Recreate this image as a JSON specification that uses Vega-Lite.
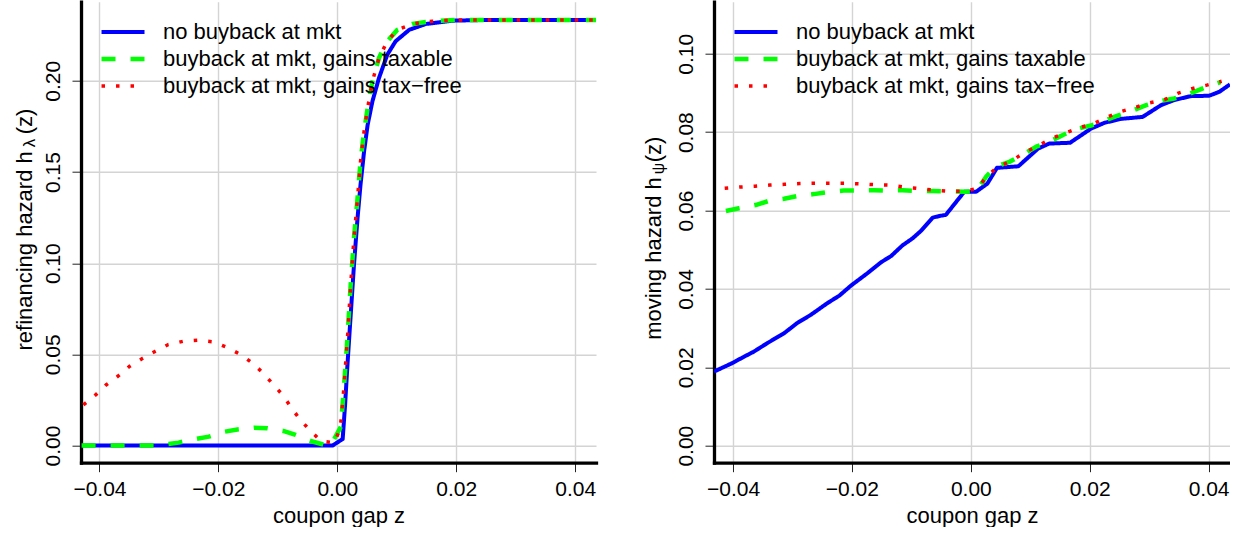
{
  "$schema": "https://vega.github.io/schema/vega-lite/v6.json",
  "background": "white",
  "padding": {"left": 13, "top": 1.7, "right": 0, "bottom": 0},
  "bounds": "flush",
  "spacing": 118,
  "datasets": {
    "refi": [
      {"s": "nb", "z": -0.0430, "h": 0},
      {"s": "nb", "z": -0.0008, "h": 0},
      {"s": "nb", "z": 0.0009, "h": 0.0036},
      {"s": "nb", "z": 0.0013, "h": 0.022},
      {"s": "nb", "z": 0.0017, "h": 0.044},
      {"s": "nb", "z": 0.00225, "h": 0.0716},
      {"s": "nb", "z": 0.0028, "h": 0.099},
      {"s": "nb", "z": 0.0034, "h": 0.1247},
      {"s": "nb", "z": 0.0039, "h": 0.143},
      {"s": "nb", "z": 0.0045, "h": 0.1613},
      {"s": "nb", "z": 0.0051, "h": 0.1759},
      {"s": "nb", "z": 0.0059, "h": 0.1887},
      {"s": "nb", "z": 0.0070, "h": 0.2015},
      {"s": "nb", "z": 0.0084, "h": 0.2143},
      {"s": "nb", "z": 0.0098, "h": 0.2217},
      {"s": "nb", "z": 0.0121, "h": 0.2280},
      {"s": "nb", "z": 0.0149, "h": 0.2312},
      {"s": "nb", "z": 0.0194, "h": 0.2330},
      {"s": "nb", "z": 0.0250, "h": 0.2334},
      {"s": "nb", "z": 0.0435, "h": 0.2334},

      {"s": "tx", "z": -0.0430, "h": 0},
      {"s": "tx", "z": -0.0300, "h": 0},
      {"s": "tx", "z": -0.0288, "h": 0.0007},
      {"s": "tx", "z": -0.0267, "h": 0.0016},
      {"s": "tx", "z": -0.0239, "h": 0.0036},
      {"s": "tx", "z": -0.0216, "h": 0.0049},
      {"s": "tx", "z": -0.0191, "h": 0.0075},
      {"s": "tx", "z": -0.0168, "h": 0.0088},
      {"s": "tx", "z": -0.0140, "h": 0.0098},
      {"s": "tx", "z": -0.0118, "h": 0.0095},
      {"s": "tx", "z": -0.0091, "h": 0.0080},
      {"s": "tx", "z": -0.0070, "h": 0.0058},
      {"s": "tx", "z": -0.0045, "h": 0.0025},
      {"s": "tx", "z": -0.0022, "h": 0.0004},
      {"s": "tx", "z": -0.0011, "h": 0},
      {"s": "tx", "z": -0.0003, "h": 0.0049},
      {"s": "tx", "z": 0.0006, "h": 0.0104},
      {"s": "tx", "z": 0.0011, "h": 0.0314},
      {"s": "tx", "z": 0.0017, "h": 0.0588},
      {"s": "tx", "z": 0.00225, "h": 0.0881},
      {"s": "tx", "z": 0.0028, "h": 0.1137},
      {"s": "tx", "z": 0.0034, "h": 0.1357},
      {"s": "tx", "z": 0.0039, "h": 0.1558},
      {"s": "tx", "z": 0.0045, "h": 0.1723},
      {"s": "tx", "z": 0.0051, "h": 0.1851},
      {"s": "tx", "z": 0.0059, "h": 0.1997},
      {"s": "tx", "z": 0.0070, "h": 0.2125},
      {"s": "tx", "z": 0.0084, "h": 0.2217},
      {"s": "tx", "z": 0.0101, "h": 0.2280},
      {"s": "tx", "z": 0.0126, "h": 0.2312},
      {"s": "tx", "z": 0.0160, "h": 0.2327},
      {"s": "tx", "z": 0.0199, "h": 0.2334},
      {"s": "tx", "z": 0.0435, "h": 0.2334},

      {"s": "tf", "z": -0.0427, "h": 0.0223},
      {"s": "tf", "z": -0.0407, "h": 0.0276},
      {"s": "tf", "z": -0.0389, "h": 0.0332},
      {"s": "tf", "z": -0.0369, "h": 0.0380},
      {"s": "tf", "z": -0.0350, "h": 0.0433},
      {"s": "tf", "z": -0.0328, "h": 0.0477},
      {"s": "tf", "z": -0.0306, "h": 0.0517},
      {"s": "tf", "z": -0.0284, "h": 0.0554},
      {"s": "tf", "z": -0.0259, "h": 0.0572},
      {"s": "tf", "z": -0.0235, "h": 0.0577},
      {"s": "tf", "z": -0.0209, "h": 0.0569},
      {"s": "tf", "z": -0.0186, "h": 0.0539},
      {"s": "tf", "z": -0.0163, "h": 0.0500},
      {"s": "tf", "z": -0.0143, "h": 0.0453},
      {"s": "tf", "z": -0.0125, "h": 0.0398},
      {"s": "tf", "z": -0.0108, "h": 0.0336},
      {"s": "tf", "z": -0.0091, "h": 0.0274},
      {"s": "tf", "z": -0.0077, "h": 0.0206},
      {"s": "tf", "z": -0.0062, "h": 0.0140},
      {"s": "tf", "z": -0.0045, "h": 0.0080},
      {"s": "tf", "z": -0.0027, "h": 0.0024},
      {"s": "tf", "z": -0.0005, "h": 0.0016},
      {"s": "tf", "z": 0.0005, "h": 0.0095},
      {"s": "tf", "z": 0.0011, "h": 0.0314},
      {"s": "tf", "z": 0.0017, "h": 0.0588},
      {"s": "tf", "z": 0.00225, "h": 0.0881},
      {"s": "tf", "z": 0.0028, "h": 0.1137},
      {"s": "tf", "z": 0.0034, "h": 0.1357},
      {"s": "tf", "z": 0.0039, "h": 0.1558},
      {"s": "tf", "z": 0.0045, "h": 0.1723},
      {"s": "tf", "z": 0.0051, "h": 0.1851},
      {"s": "tf", "z": 0.0059, "h": 0.1997},
      {"s": "tf", "z": 0.0070, "h": 0.2125},
      {"s": "tf", "z": 0.0084, "h": 0.2217},
      {"s": "tf", "z": 0.0101, "h": 0.2280},
      {"s": "tf", "z": 0.0126, "h": 0.2312},
      {"s": "tf", "z": 0.0160, "h": 0.2327},
      {"s": "tf", "z": 0.0199, "h": 0.2334},
      {"s": "tf", "z": 0.0435, "h": 0.2334}
    ],
    "move": [
      {"s": "nb", "z": -0.0432, "h": 0.0189},
      {"s": "nb", "z": -0.0401, "h": 0.0211},
      {"s": "nb", "z": -0.0384, "h": 0.0225},
      {"s": "nb", "z": -0.0365, "h": 0.0240},
      {"s": "nb", "z": -0.0342, "h": 0.0262},
      {"s": "nb", "z": -0.0314, "h": 0.0287},
      {"s": "nb", "z": -0.0292, "h": 0.0313},
      {"s": "nb", "z": -0.0269, "h": 0.0334},
      {"s": "nb", "z": -0.0241, "h": 0.0364},
      {"s": "nb", "z": -0.0221, "h": 0.0383},
      {"s": "nb", "z": -0.0202, "h": 0.0408},
      {"s": "nb", "z": -0.0174, "h": 0.0440},
      {"s": "nb", "z": -0.0151, "h": 0.0468},
      {"s": "nb", "z": -0.0134, "h": 0.0484},
      {"s": "nb", "z": -0.0115, "h": 0.0511},
      {"s": "nb", "z": -0.0098, "h": 0.0529},
      {"s": "nb", "z": -0.0084, "h": 0.0548},
      {"s": "nb", "z": -0.0064, "h": 0.0582},
      {"s": "nb", "z": -0.0053, "h": 0.0586},
      {"s": "nb", "z": -0.0042, "h": 0.0589},
      {"s": "nb", "z": -0.0011, "h": 0.0648},
      {"s": "nb", "z": 0.0009, "h": 0.0648},
      {"s": "nb", "z": 0.0028, "h": 0.0669},
      {"s": "nb", "z": 0.0044, "h": 0.0709},
      {"s": "nb", "z": 0.0080, "h": 0.0713},
      {"s": "nb", "z": 0.0113, "h": 0.0758},
      {"s": "nb", "z": 0.0132, "h": 0.0771},
      {"s": "nb", "z": 0.0167, "h": 0.0773},
      {"s": "nb", "z": 0.0202, "h": 0.0809},
      {"s": "nb", "z": 0.0225, "h": 0.0824},
      {"s": "nb", "z": 0.0253, "h": 0.0834},
      {"s": "nb", "z": 0.0289, "h": 0.0839},
      {"s": "nb", "z": 0.0320, "h": 0.0869},
      {"s": "nb", "z": 0.0342, "h": 0.0882},
      {"s": "nb", "z": 0.0370, "h": 0.0892},
      {"s": "nb", "z": 0.0401, "h": 0.0893},
      {"s": "nb", "z": 0.0418, "h": 0.0903},
      {"s": "nb", "z": 0.0436, "h": 0.0922},

      {"s": "tx", "z": -0.0412, "h": 0.0599},
      {"s": "tx", "z": -0.0390, "h": 0.0606},
      {"s": "tx", "z": -0.0362, "h": 0.0614},
      {"s": "tx", "z": -0.0339, "h": 0.0625},
      {"s": "tx", "z": -0.0314, "h": 0.0630},
      {"s": "tx", "z": -0.0292, "h": 0.0637},
      {"s": "tx", "z": -0.0264, "h": 0.0642},
      {"s": "tx", "z": -0.0242, "h": 0.0647},
      {"s": "tx", "z": -0.0214, "h": 0.0651},
      {"s": "tx", "z": -0.0193, "h": 0.0651},
      {"s": "tx", "z": -0.0163, "h": 0.0652},
      {"s": "tx", "z": -0.0143, "h": 0.0651},
      {"s": "tx", "z": -0.0115, "h": 0.0652},
      {"s": "tx", "z": -0.0092, "h": 0.0650},
      {"s": "tx", "z": -0.0064, "h": 0.0650},
      {"s": "tx", "z": -0.0034, "h": 0.0649},
      {"s": "tx", "z": -0.0011, "h": 0.0648},
      {"s": "tx", "z": 0.0009, "h": 0.0649},
      {"s": "tx", "z": 0.0026, "h": 0.0687},
      {"s": "tx", "z": 0.0042, "h": 0.0712},
      {"s": "tx", "z": 0.0066, "h": 0.0725},
      {"s": "tx", "z": 0.0084, "h": 0.0740},
      {"s": "tx", "z": 0.0110, "h": 0.0763},
      {"s": "tx", "z": 0.0130, "h": 0.0774},
      {"s": "tx", "z": 0.0155, "h": 0.0793},
      {"s": "tx", "z": 0.0177, "h": 0.0808},
      {"s": "tx", "z": 0.0202, "h": 0.0817},
      {"s": "tx", "z": 0.0222, "h": 0.0828},
      {"s": "tx", "z": 0.0247, "h": 0.0842},
      {"s": "tx", "z": 0.0270, "h": 0.0854},
      {"s": "tx", "z": 0.0295, "h": 0.0869},
      {"s": "tx", "z": 0.0317, "h": 0.0879},
      {"s": "tx", "z": 0.0342, "h": 0.0886},
      {"s": "tx", "z": 0.0365, "h": 0.0896},
      {"s": "tx", "z": 0.0392, "h": 0.0913},
      {"s": "tx", "z": 0.0420, "h": 0.0928},

      {"s": "tf", "z": -0.0414, "h": 0.0657},
      {"s": "tf", "z": -0.0389, "h": 0.0660},
      {"s": "tf", "z": -0.0363, "h": 0.0662},
      {"s": "tf", "z": -0.0338, "h": 0.0665},
      {"s": "tf", "z": -0.0313, "h": 0.0667},
      {"s": "tf", "z": -0.0288, "h": 0.0669},
      {"s": "tf", "z": -0.0262, "h": 0.0670},
      {"s": "tf", "z": -0.0237, "h": 0.0670},
      {"s": "tf", "z": -0.0212, "h": 0.0670},
      {"s": "tf", "z": -0.0187, "h": 0.0668},
      {"s": "tf", "z": -0.0162, "h": 0.0666},
      {"s": "tf", "z": -0.0137, "h": 0.0665},
      {"s": "tf", "z": -0.0111, "h": 0.0660},
      {"s": "tf", "z": -0.0087, "h": 0.0656},
      {"s": "tf", "z": -0.0061, "h": 0.0652},
      {"s": "tf", "z": -0.0036, "h": 0.0649},
      {"s": "tf", "z": -0.0011, "h": 0.0649},
      {"s": "tf", "z": 0.0012, "h": 0.0657},
      {"s": "tf", "z": 0.0027, "h": 0.0688},
      {"s": "tf", "z": 0.0046, "h": 0.0712},
      {"s": "tf", "z": 0.0069, "h": 0.0727},
      {"s": "tf", "z": 0.0090, "h": 0.0748},
      {"s": "tf", "z": 0.0113, "h": 0.0765},
      {"s": "tf", "z": 0.0135, "h": 0.0784},
      {"s": "tf", "z": 0.0159, "h": 0.0798},
      {"s": "tf", "z": 0.0182, "h": 0.0811},
      {"s": "tf", "z": 0.0207, "h": 0.0822},
      {"s": "tf", "z": 0.0229, "h": 0.0838},
      {"s": "tf", "z": 0.0253, "h": 0.0853},
      {"s": "tf", "z": 0.0276, "h": 0.0863},
      {"s": "tf", "z": 0.0301, "h": 0.0875},
      {"s": "tf", "z": 0.0326, "h": 0.0883},
      {"s": "tf", "z": 0.0348, "h": 0.0899},
      {"s": "tf", "z": 0.0372, "h": 0.0911},
      {"s": "tf", "z": 0.0397, "h": 0.0920},
      {"s": "tf", "z": 0.0422, "h": 0.0930}
    ]
  },
  "hconcat": [
    {
      "width": 515,
      "height": 461,
      "data": {"name": "refi"},
      "encoding": {
        "x": {
          "field": "z", "type": "quantitative",
          "scale": {"domain": [-0.0431, 0.0435], "nice": false, "zero": false},
          "axis": {"values": [-0.04, -0.02, 0, 0.02, 0.04], "format": ".2f", "title": "coupon gap z", "titleY": 59.7, "titleBaseline": "alphabetic", "labelBaseline": "alphabetic", "labelPadding": 23.4}
        },
        "color": {"field": "s", "type": "nominal", "title": null,
          "scale": {"domain": ["nb", "tx", "tf"], "range": ["#0000ff", "#00ff00", "#ff0000"]},
          "legend": {"labelExpr": "datum.label === 'nb' ? 'no buyback at mkt' : datum.label === 'tx' ? 'buyback at mkt, gains taxable' : 'buyback at mkt, gains tax\u2212free'"}},
        "strokeDash": {"field": "s", "type": "nominal", "title": null,
          "scale": {"domain": ["nb", "tx", "tf"], "range": [[1, 0], [14, 15], [3.5, 11]]},
          "legend": {"labelExpr": "datum.label === 'nb' ? 'no buyback at mkt' : datum.label === 'tx' ? 'buyback at mkt, gains taxable' : 'buyback at mkt, gains tax\u2212free'"}},
        "strokeWidth": {"field": "s", "type": "nominal", "title": null,
          "scale": {"type": "ordinal", "domain": ["nb", "tx", "tf"], "range": [4, 4.5, 3.5]},
          "legend": {"labelExpr": "datum.label === 'nb' ? 'no buyback at mkt' : datum.label === 'tx' ? 'buyback at mkt, gains taxable' : 'buyback at mkt, gains tax\u2212free'"}}
      },
      "layer": [
        {
          "transform": [{"filter": "datum.s === 'nb'"}],
          "mark": {"type": "line", "clip": true, "strokeJoin": "round"},
          "encoding": {"y": {"field": "h", "type": "quantitative", "scale": {"domain": [-0.0094, 0.2434], "nice": false, "zero": false},
            "axis": {"orient": "left", "values": [0, 0.05, 0.1, 0.15, 0.2], "format": ".2f", "labelAngle": 270, "labelAlign": "center", "labelBaseline": "alphabetic", "labelPadding": 12.2,
              "title": "refinancing hazard h", "titleAngle": 270, "titleAlign": "left", "titleBaseline": "alphabetic", "titleX": -49.5, "titleY": 348.3}}}
        },
        {
          "transform": [{"filter": "datum.s === 'tx'"}],
          "mark": {"type": "line", "clip": true, "strokeJoin": "round"},
          "encoding": {"y": {"field": "h", "type": "quantitative", "scale": {"domain": [-0.0094, 0.2434], "nice": false, "zero": false},
            "axis": {"orient": "left", "labels": false, "ticks": false, "domain": false, "grid": false,
              "title": "λ", "titleFontSize": 17, "titleAngle": 270, "titleAlign": "left", "titleBaseline": "alphabetic", "titleX": -46.5, "titleY": 145}}}
        },
        {
          "transform": [{"filter": "datum.s === 'tf'"}],
          "mark": {"type": "line", "clip": true, "strokeJoin": "round"},
          "encoding": {"y": {"field": "h", "type": "quantitative", "scale": {"domain": [-0.0094, 0.2434], "nice": false, "zero": false},
            "axis": {"orient": "left", "labels": false, "ticks": false, "domain": false, "grid": false,
              "title": "(z)", "titleAngle": 270, "titleAlign": "left", "titleBaseline": "alphabetic", "titleX": -49.5, "titleY": 132}}}
        }
      ],
      "resolve": {"axis": {"y": "independent"}}
    },
    {
      "width": 516,
      "height": 461,
      "data": {"name": "move"},
      "encoding": {
        "x": {
          "field": "z", "type": "quantitative",
          "scale": {"domain": [-0.0432, 0.0436], "nice": false, "zero": false},
          "axis": {"values": [-0.04, -0.02, 0, 0.02, 0.04], "format": ".2f", "title": "coupon gap z", "titleY": 59.7, "titleBaseline": "alphabetic", "labelBaseline": "alphabetic", "labelPadding": 23.4}
        },
        "color": {"field": "s", "type": "nominal", "title": null,
          "scale": {"domain": ["nb", "tx", "tf"], "range": ["#0000ff", "#00ff00", "#ff0000"]},
          "legend": {"labelExpr": "datum.label === 'nb' ? 'no buyback at mkt' : datum.label === 'tx' ? 'buyback at mkt, gains taxable' : 'buyback at mkt, gains tax\u2212free'"}},
        "strokeDash": {"field": "s", "type": "nominal", "title": null,
          "scale": {"domain": ["nb", "tx", "tf"], "range": [[1, 0], [14, 15], [3.5, 11]]},
          "legend": {"labelExpr": "datum.label === 'nb' ? 'no buyback at mkt' : datum.label === 'tx' ? 'buyback at mkt, gains taxable' : 'buyback at mkt, gains tax\u2212free'"}},
        "strokeWidth": {"field": "s", "type": "nominal", "title": null,
          "scale": {"type": "ordinal", "domain": ["nb", "tx", "tf"], "range": [4, 4.5, 3.5]},
          "legend": {"labelExpr": "datum.label === 'nb' ? 'no buyback at mkt' : datum.label === 'tx' ? 'buyback at mkt, gains taxable' : 'buyback at mkt, gains tax\u2212free'"}}
      },
      "layer": [
        {
          "transform": [{"filter": "datum.s === 'nb'"}],
          "mark": {"type": "line", "clip": true, "strokeJoin": "round"},
          "encoding": {"y": {"field": "h", "type": "quantitative", "scale": {"domain": [-0.00434, 0.1133], "nice": false, "zero": false},
            "axis": {"orient": "left", "values": [0, 0.02, 0.04, 0.06, 0.08, 0.1], "format": ".2f", "labelAngle": 270, "labelAlign": "center", "labelBaseline": "alphabetic", "labelPadding": 12,
              "title": "moving hazard h", "titleAngle": 270, "titleAlign": "left", "titleBaseline": "alphabetic", "titleX": -53, "titleY": 337.6}}}
        },
        {
          "transform": [{"filter": "datum.s === 'tx'"}],
          "mark": {"type": "line", "clip": true, "strokeJoin": "round"},
          "encoding": {"y": {"field": "h", "type": "quantitative", "scale": {"domain": [-0.00434, 0.1133], "nice": false, "zero": false},
            "axis": {"orient": "left", "labels": false, "ticks": false, "domain": false, "grid": false,
              "title": "ψ", "titleFontSize": 16, "titleAngle": 270, "titleAlign": "left", "titleBaseline": "alphabetic", "titleX": -50, "titleY": 172}}}
        },
        {
          "transform": [{"filter": "datum.s === 'tf'"}],
          "mark": {"type": "line", "clip": true, "strokeJoin": "round"},
          "encoding": {"y": {"field": "h", "type": "quantitative", "scale": {"domain": [-0.00434, 0.1133], "nice": false, "zero": false},
            "axis": {"orient": "left", "labels": false, "ticks": false, "domain": false, "grid": false,
              "title": "(z)", "titleAngle": 270, "titleAlign": "left", "titleBaseline": "alphabetic", "titleX": -53, "titleY": 160}}}
        }
      ],
      "resolve": {"axis": {"y": "independent"}}
    }
  ],
  "resolve": {"scale": {"color": "independent", "strokeDash": "independent", "strokeWidth": "independent"}},
  "config": {
    "font": "Liberation Sans",
    "view": {"stroke": null},
    "axis": {
      "domainColor": "black", "domainWidth": 3.3, "domainCap": "square",
      "tickColor": "#222222", "tickWidth": 1, "tickSize": 9,
      "labelFont": "Liberation Sans", "labelFontSize": 21, "labelColor": "black", "labelFlush": false, "labelOverlap": false,
      "gridColor": "#d4d4d4", "gridWidth": 1.4,
      "titleFont": "Liberation Sans", "titleFontSize": 22, "titleFontWeight": "normal", "titleColor": "black"
    },
    "legend": {
      "orient": "none", "legendX": 18, "legendY": 17, "padding": 0,
      "symbolType": "stroke", "symbolSize": 1849, "clipHeight": 26.7, "rowPadding": 0,
      "labelFont": "Liberation Sans", "labelFontSize": 22, "labelColor": "black", "labelOffset": 16, "labelLimit": 0
    }
  }
}
